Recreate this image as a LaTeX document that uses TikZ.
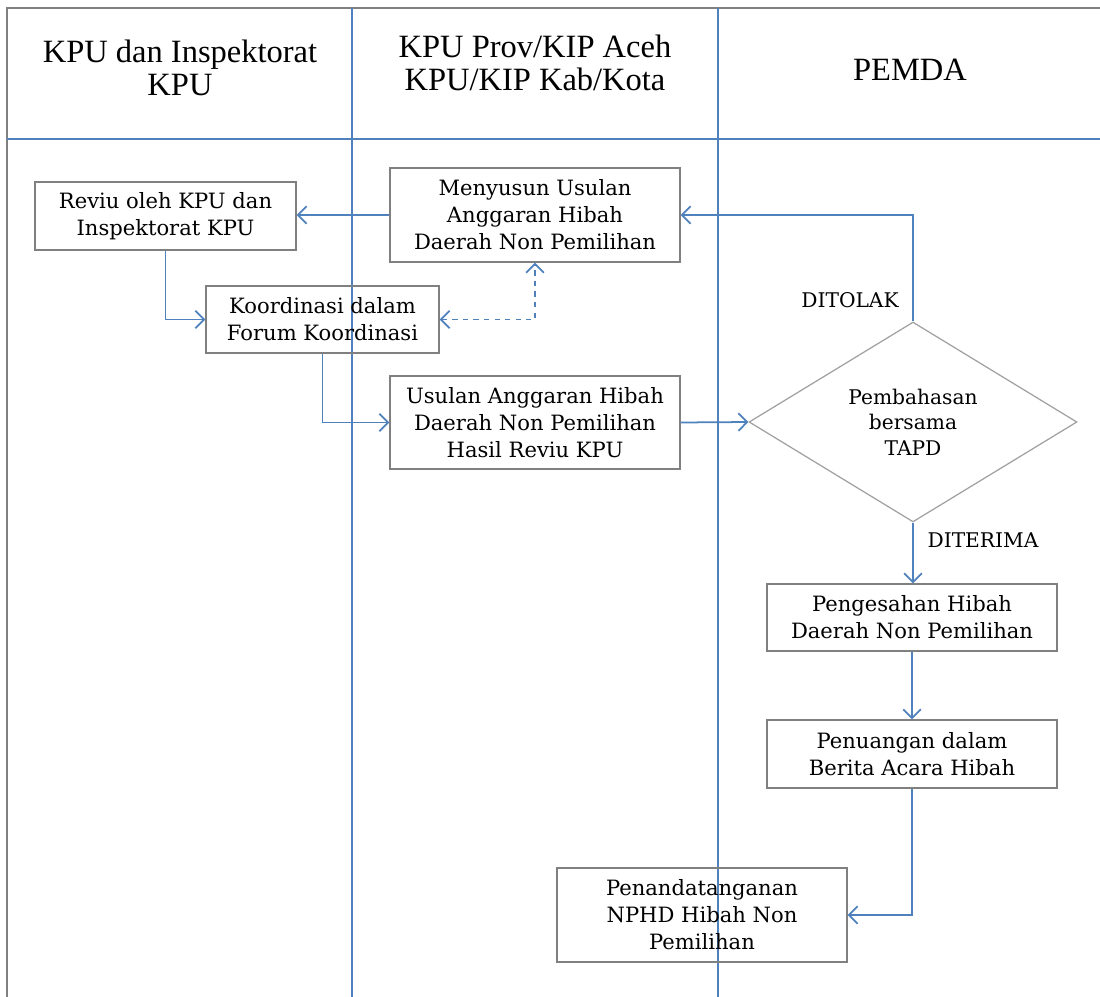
\documentclass[tikz,border=0pt]{standalone}
\usepackage{fontspec}
\setmainfont{DejaVu Serif}
\newfontfamily\headfont{Liberation Serif}
\usepackage{tikz}
\usetikzlibrary{positioning}
\usetikzlibrary{shapes.geometric}
\usetikzlibrary{arrows.meta}

\definecolor{laneblue}{RGB}{79,129,189}
\definecolor{boxgray}{RGB}{128,128,128}
\definecolor{diagray}{RGB}{160,160,160}

\tikzset{
  stepbox/.style={align=center,draw=boxgray,line width=0.8pt,inner sep=2pt,
    font=\fontsize{12}{15.3}\selectfont,minimum width=5.8cm},
  decision/.style={diamond,aspect=1.64,draw=diagray,line width=0.7pt,inner sep=0pt,
    align=center,font=\fontsize{11.5}{14.5}\selectfont,minimum width=6.56cm,minimum height=4cm},
  flow/.style={->,draw=laneblue,line width=1pt,>={Straight Barb[length=5pt,width=10pt]}},
  lane/.style={draw=laneblue,line width=0.8pt},
  frame/.style={draw=boxgray,line width=0.8pt},
  heading/.style={align=center,font=\headfont\fontsize{18.5}{19}\selectfont},
  tag/.style={font=\fontsize{11.5}{14}\selectfont}
}

\begin{document}
\begin{tikzpicture}[x=0.02cm,y=-0.02cm]
  \useasboundingbox (0,0) rectangle (1100,997);

  % swimlanes
  \draw[frame] (7,997) -- (7,8) -- (1100,8);
  \draw[lane] (352,8) -- (352,997);
  \draw[lane] (718,8) -- (718,997);
  \draw[lane,line width=1.3pt] (7,139) -- (1100,139);

  \node at (180,68) [heading] (hkpu) {KPU dan Inspektorat\\KPU};
  \node at (535,63) [heading] (hprov) {KPU Prov/KIP Aceh\\KPU/KIP Kab/Kota};
  \node at (910,70) [heading] (hpemda) {PEMDA};

  % steps
  \node at (165.5,216) [stepbox,minimum width=5.22cm,minimum height=1.36cm] (reviu) {
    Reviu oleh KPU dan\\Inspektorat KPU
  };

  \node at (535,215) [stepbox,minimum height=1.88cm] (menyusun) {
    Menyusun Usulan\\Anggaran Hibah\\Daerah Non Pemilihan
  };

  \node at (322.5,319.5) [stepbox,minimum width=4.66cm,minimum height=1.34cm] (koordinasi) {
    Koordinasi dalam\\Forum Koordinasi
  };

  \node at (535,422.5) [stepbox,minimum height=1.86cm] (usulan) {
    Usulan Anggaran Hibah\\Daerah Non Pemilihan\\Hasil Reviu KPU
  };

  \node at (913,422) [decision] (tapd) {
    Pembahasan\\bersama\\TAPD
  };

  \node at (912,617.5) [stepbox,minimum height=1.34cm] (pengesahan) {
    Pengesahan Hibah\\Daerah Non Pemilihan
  };

  \node at (912,754) [stepbox,minimum height=1.36cm] (penuangan) {
    Penuangan dalam\\Berita Acara Hibah
  };

  \node at (702,915) [stepbox,minimum height=1.88cm] (nphd) {
    Penandatanganan\\NPHD Hibah Non\\Pemilihan
  };

  \node at (850,300) [tag] (ditolak) {DITOLAK};
  \node at (983,540) [tag] (diterima) {DITERIMA};

  % connectors
  \path[flow] (menyusun.west) -- (reviu.east |- menyusun.west);
  \path[flow] (reviu.south) |- (koordinasi.west);
  \path[flow,<->,dashed] (koordinasi.east) -| (menyusun.south);
  \path[flow] (koordinasi.south) |- (usulan.west);
  \path[flow] (usulan.east) -- (tapd.west);
  \path[flow] (tapd.north) |- (menyusun.east);
  \path[flow] (tapd.south) -- (pengesahan.north -| tapd.south);
  \path[flow] (pengesahan.south) -- (penuangan.north);
  \path[flow] (penuangan.south) |- (nphd.east);
\end{tikzpicture}
\end{document}
